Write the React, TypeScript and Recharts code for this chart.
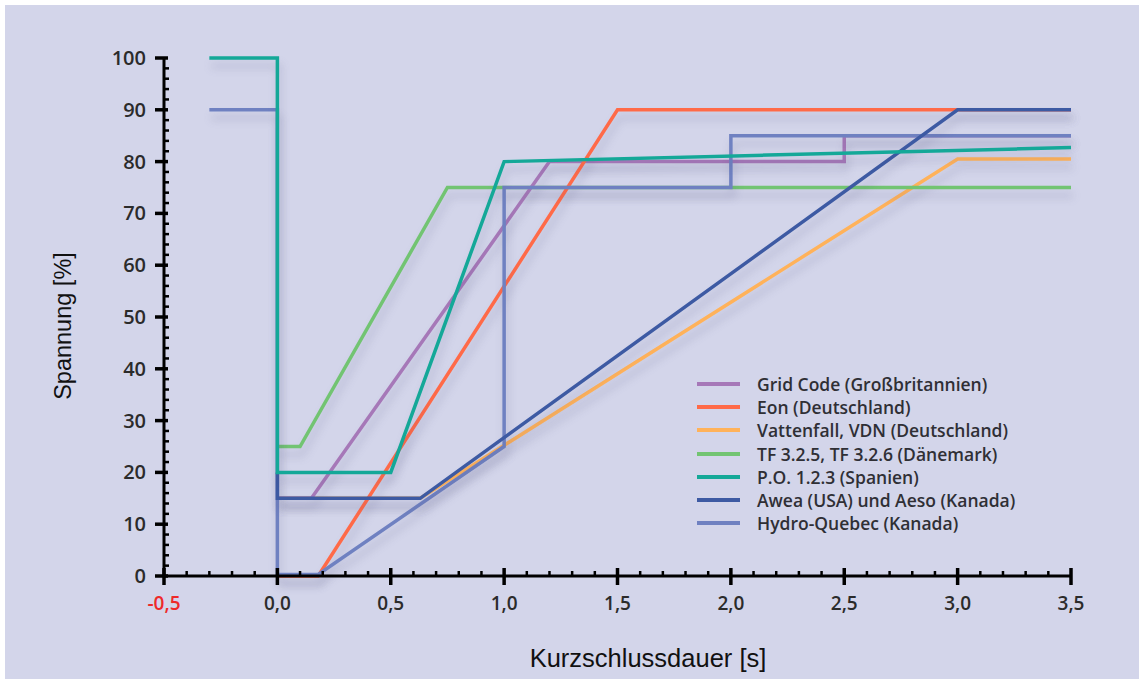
import React from 'react';
import { LineChart, Line, XAxis, YAxis, Legend } from 'recharts';

// ---- data (seconds, percent) ----
const gridCodeX = [0, 0.15, 1.2, 2.5, 2.5, 3.5];
const gridCodeY = [15, 15, 80, 80, 85, 85];
const eonX = [0, 0.18, 1.5, 3.5];
const eonY = [0, 0, 90, 90];
const vattenfallX = [0, 0.63, 3.0, 3.5];
const vattenfallY = [15, 15, 80.5, 80.5];
const tfX = [0, 0.1, 0.75, 3.5];
const tfY = [25, 25, 75, 75];
const poX = [-0.3, 0, 0, 0.5, 1.0, 3.5];
const poY = [100, 100, 20, 20, 80, 82.7];
const aweaX = [0, 0, 0.63, 3.0, 3.5];
const aweaY = [20, 15, 15, 90, 90];
const hydroX = [-0.3, 0, 0, 0.18, 1.0, 1.0, 2.0, 2.0, 3.5];
const hydroY = [90, 90, 0.3, 0.3, 25, 75, 75, 85, 85];

const xMajorTicks = [-0.5, 0, 0.5, 1.0, 1.5, 2.0, 2.5, 3.0, 3.5];
const xTickLabels = ['-0,5', '0,0', '0,5', '1,0', '1,5', '2,0', '2,5', '3,0', '3,5'];
const yMajorTicks = [0, 10, 20, 30, 40, 50, 60, 70, 80, 90, 100];
const yTickLabels = ['0', '10', '20', '30', '40', '50', '60', '70', '80', '90', '100'];

const seriesNames = [
  'Grid Code (Großbritannien)',
  'Eon (Deutschland)',
  'Vattenfall, VDN (Deutschland)',
  'TF 3.2.5, TF 3.2.6 (Dänemark)',
  'P.O. 1.2.3 (Spanien)',
  'Awea (USA) und Aeso (Kanada)',
  'Hydro-Quebec (Kanada)',
];
const seriesColors = ['#a678b8', '#ff6a48', '#ffb25a', '#72c472', '#14a898', '#3d5aa3', '#6f81c1'];

const zip = (xs: number[], ys: number[]) => xs.map((x, i) => ({ x, y: ys[i] }));
const seriesData = [
  zip(gridCodeX, gridCodeY),
  zip(eonX, eonY),
  zip(vattenfallX, vattenfallY),
  zip(tfX, tfY),
  zip(poX, poY),
  zip(aweaX, aweaY),
  zip(hydroX, hydroY),
];
// drawing order (later = on top)
const drawOrder = [2, 3, 0, 1, 6, 5, 4];

const xAllTicks: number[] = [];
for (let i = -5; i <= 35; i++) xAllTicks.push(i / 10);
const yAllTicks: number[] = [];
for (let i = 0; i <= 100; i += 2) yAllTicks.push(i);

const tickFont = '"Open Sans", "DejaVu Sans", sans-serif';

const XTick = (props: any) => {
  const { x, y, payload } = props;
  const v = payload.value;
  const idx = xMajorTicks.findIndex((m) => Math.abs(m - v) < 1e-6);
  const major = idx >= 0;
  return (
    <g>
      <line x1={x} x2={x} y1={major ? y - 8 : y - 5} y2={major ? y + 9 : y} stroke="#000" strokeWidth={major ? 3.5 : 2.5} />
      {major && (
        <text x={x} y={y + 34} textAnchor="middle" fontFamily={tickFont} fontWeight={600} fontSize={19}
          fill={idx === 0 ? '#ee2a2a' : '#2b2b2b'}>
          {xTickLabels[idx]}
        </text>
      )}
    </g>
  );
};

const YTick = (props: any) => {
  const { x, y, payload } = props;
  const v = payload.value;
  const idx = yMajorTicks.findIndex((m) => Math.abs(m - v) < 1e-6);
  const major = idx >= 0;
  return (
    <g>
      <line x1={major ? x - 9 : x} x2={major ? x + 4 : x + 5} y1={y} y2={y} stroke="#000" strokeWidth={major ? 3.5 : 2.5} />
      {major && (
        <text x={x - 18} y={y + 7} textAnchor="end" fontFamily={tickFont} fontWeight={600} fontSize={20} fill="#2b2b2b">
          {yTickLabels[idx]}
        </text>
      )}
    </g>
  );
};

const renderLegend = () => (
  <div style={{ fontFamily: tickFont, fontWeight: 600, fontSize: 17.5, color: '#2f2f35' }}>
    {seriesNames.map((n, i) => (
      <div key={n} style={{ display: 'flex', alignItems: 'center', height: 23.3, whiteSpace: 'nowrap' }}>
        <span style={{ display: 'inline-block', width: 43, height: 4, background: seriesColors[i], marginRight: 17 }} />
        <span>{n}</span>
      </div>
    ))}
  </div>
);

export default function App() {
  return (
    <div style={{ position: 'relative', width: 1144, height: 684, background: '#ffffff' }}>
      <style>{`body{margin:0} .recharts-line-curve{filter:drop-shadow(2px 8px 4px rgba(70,70,120,0.22));}`}</style>
      <div style={{ position: 'absolute', left: 5, top: 5, width: 1134, height: 674, background: '#d3d5ea' }} />
      <div style={{ position: 'absolute', left: 0, top: 0 }}>
        <LineChart width={1144} height={684} margin={{ top: 58, right: 73, bottom: 28, left: 24 }}>
          <XAxis
            dataKey="x"
            type="number"
            domain={[-0.5, 3.5]}
            ticks={xAllTicks}
            interval={0}
            tickSize={0}
            tickMargin={0}
            tickLine={false}
            tick={<XTick />}
            height={80}
            axisLine={{ stroke: '#000', strokeWidth: 3 }}
            label={{
              content: (p: any) => {
                const vb = p.viewBox;
                return (
                  <text x={648} y={vb.y + 91} textAnchor="middle" fontFamily='"Liberation Sans", Arial, sans-serif' fontSize={25.5} fill="#111">
                    Kurzschlussdauer [s]
                  </text>
                );
              },
            }}
          />
          <YAxis
            dataKey="y"
            type="number"
            domain={[0, 100]}
            ticks={yAllTicks}
            interval={0}
            tickSize={0}
            tickMargin={0}
            tickLine={false}
            tick={<YTick />}
            width={140}
            axisLine={{ stroke: '#000', strokeWidth: 3 }}
            label={{
              content: () => (
                <text x={71} y={326} textAnchor="middle" transform="rotate(-90 71 326)" fontFamily='"Liberation Sans", Arial, sans-serif' fontSize={23.5} fill="#111">
                  Spannung [%]
                </text>
              ),
            }}
          />
          <Legend
            layout="vertical"
            align="center"
            verticalAlign="middle"
            content={renderLegend}
            wrapperStyle={{ left: 697, top: 372, width: 360, height: 170 }}
          />
          {drawOrder.map((i) => (
            <Line
              key={seriesNames[i]}
              data={seriesData[i]}
              dataKey="y"
              name={seriesNames[i]}
              type="linear"
              stroke={seriesColors[i]}
              strokeWidth={3.5}
              dot={false}
              activeDot={false}
              isAnimationActive={false}
              strokeLinejoin="miter"
            />
          ))}
        </LineChart>
      </div>
    </div>
  );
}
